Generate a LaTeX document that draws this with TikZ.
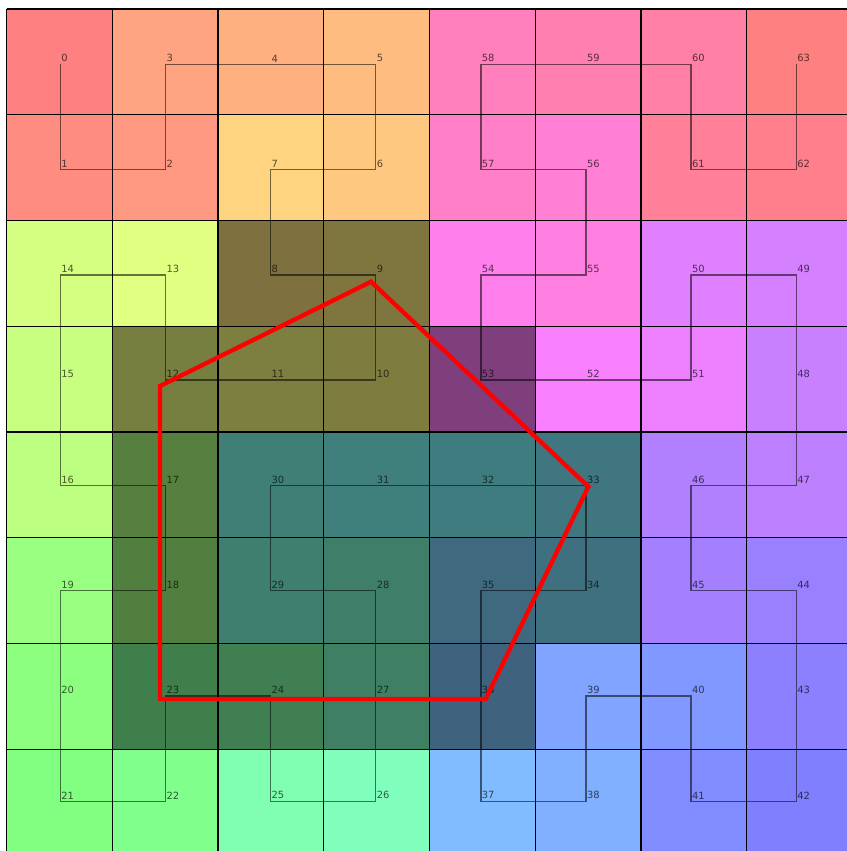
\documentclass[tikz,border=0pt]{standalone}
\usepackage{fontspec}
\setsansfont{DejaVu Sans}
\usepackage{tikz}
\definecolor{regionred}{HTML}{FF0000}

\begin{document}
\begin{tikzpicture}[x=3cm,y=-3cm,
  cellbox/.style={draw=black,line width=1pt},
  darkcell/.style={fill=black,fill opacity=0.5},
  curve/.style={black,opacity=0.55,line width=1.1pt},
  idx/.style={font=\sffamily\fontsize{8}{9}\selectfont,text=black,text opacity=0.65,anchor=south west,inner sep=0pt,xshift=0.6pt,yshift=1.6pt},
  region/.style={regionred,line width=3.5pt}]
\useasboundingbox (-0.0615,-0.085) rectangle (7.939,7.962);
\foreach \c/\r [count=\i from 0] in {0/0,0/1,1/1,1/0,2/0,3/0,3/1,2/1,2/2,3/2,3/3,2/3,1/3,1/2,0/2,0/3,
    0/4,1/4,1/5,0/5,0/6,0/7,1/7,1/6,2/6,2/7,3/7,3/6,3/5,2/5,2/4,3/4,
    4/4,5/4,5/5,4/5,4/6,4/7,5/7,5/6,6/6,6/7,7/7,7/6,7/5,6/5,6/4,7/4,
    7/3,7/2,6/2,6/3,5/3,4/3,4/2,5/2,5/1,4/1,4/0,5/0,6/0,6/1,7/1,7/0}{
  \pgfmathsetmacro\h{mod(\i,63)/63}
  \definecolor{cellfill}{hsb}{\h,0.5,1}
  \fill[cellfill] (\c,\r) rectangle ++(1,1);
  \coordinate (p\i) at ({0.51+0.994*\c},{0.523+0.9955*\r});
}
\foreach \c/\r in {2/2,3/2,1/3,2/3,3/3,4/3,1/4,2/4,3/4,4/4,5/4,1/5,2/5,3/5,4/5,5/5,1/6,2/6,3/6,4/6}
  \fill[darkcell] (\c,\r) rectangle ++(1,1);
\foreach \k in {0,...,8}{
  \draw[cellbox] (\k,0) -- (\k,8);
  \draw[cellbox] (0,\k) -- (8,\k);
}
\draw[curve] (p0) \foreach \j in {1,...,63}{ -- (p\j)};
\foreach \i in {0,...,63}
  \node[idx] (l\i) at (p\i) {\i};
\draw[region] (1.452,3.565) -- (3.447,2.579) -- (5.502,4.517) -- (4.531,6.525) -- (1.452,6.525) -- cycle;
\end{tikzpicture}
\end{document}
